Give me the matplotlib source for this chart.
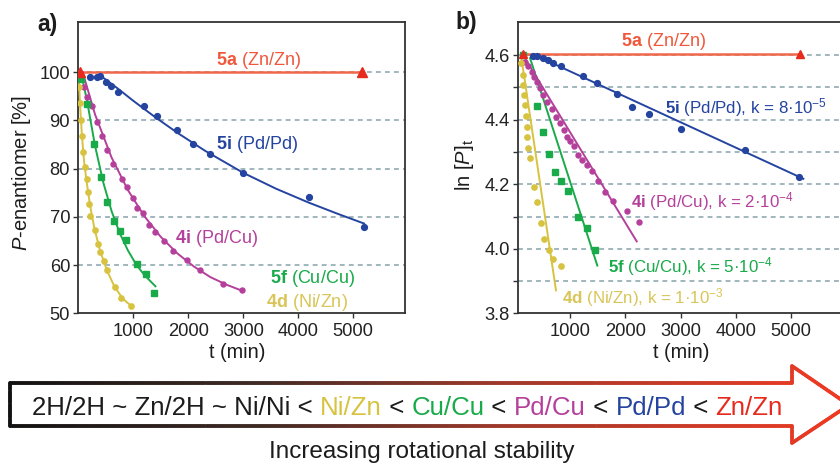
import numpy as np
import matplotlib
matplotlib.use('Agg')
import matplotlib.pyplot as plt
from matplotlib.collections import LineCollection
from matplotlib.colors import LinearSegmentedColormap

# ---------------- data ----------------
# panel a : P-enantiomer [%] vs t (min)
red_a_t = [25, 5160]
red_a_v = [100, 100]

blue_a_t = [211, 327, 394, 492, 596, 719, 1189, 1435, 1789, 2088, 2394, 3000, 4198, 5190]
blue_a_v = [98.9, 98.9, 99.2, 98.0, 97.0, 95.9, 92.9, 90.9, 88.0, 85.1, 83.0, 79.0, 74.1, 67.9]
blue_a_fit_t = [380, 700, 1000, 1400, 1800, 2300, 3000, 3600, 4200, 4700, 5200]
blue_a_fit_v = [99.4, 96.7, 94.0, 90.6, 87.4, 83.7, 79.1, 75.8, 72.9, 70.7, 68.6]

mag_a_t = [101, 161, 242, 334, 431, 517, 628, 798, 884, 994, 1073, 1178, 1288, 1391, 1556, 1721, 1967, 2206, 2628, 2976]
mag_a_v = [96.8, 94.9, 92.9, 89.7, 86.7, 83.8, 80.9, 77.8, 76.1, 73.9, 71.9, 70.8, 68.3, 66.9, 65.0, 62.9, 61.0, 58.9, 56.0, 54.9]
mag_a_fit_t = [73, 300, 600, 900, 1200, 1500, 1800, 2100, 2400, 2700, 2950]
mag_a_fit_v = [100, 91.2, 82.3, 75.5, 70.1, 65.8, 62.4, 59.7, 57.5, 55.9, 54.8]

green_a_t = [46, 161, 284, 413, 517, 639, 761, 872, 1068, 1226, 1376]
green_a_v = [98.5, 93.3, 85.1, 78.2, 73.1, 69.1, 67.0, 65.1, 60.2, 58.2, 54.2]
green_a_fit_t = [40, 150, 300, 450, 600, 750, 900, 1050, 1200, 1400]
green_a_fit_v = [100, 94.3, 84.7, 77.1, 71.2, 66.6, 63.0, 60.1, 57.9, 55.6]

yel_a_t = [9, 18, 37, 59, 88, 119, 150, 165, 189, 211, 290, 349, 394, 455, 523, 655, 776, 958]
yel_a_v = [96.8, 93.5, 90.0, 86.7, 83.5, 80.4, 77.8, 75.2, 72.6, 70.2, 67.2, 64.4, 62.6, 60.8, 58.9, 55.4, 53.2, 51.5]
yel_a_fit_t = [0, 30, 60, 100, 150, 210, 290, 390, 520, 650, 800, 958]
yel_a_fit_v = [100, 92.5, 87.0, 81.5, 77.0, 72.3, 67.5, 63.0, 58.8, 55.6, 53.1, 51.5]

# panel b : ln[P]t vs t (min)
red_b_t = [140, 5165]
red_b_L = [4.605, 4.605]

blue_b_t = [328, 401, 499, 601, 691, 826, 1236, 1490, 1842, 2125, 2434, 3004, 4171, 5156]
blue_b_L = [4.598, 4.596, 4.591, 4.585, 4.575, 4.567, 4.534, 4.513, 4.479, 4.441, 4.418, 4.371, 4.305, 4.222]
blue_b_fit_t = [360, 5230]
blue_b_fit_L = [4.600, 4.217]

mag_b_t = [178, 238, 299, 347, 390, 450, 510, 583, 662, 740, 813, 886, 946, 995, 1067, 1145, 1207, 1298,
           1388, 1508, 1630, 1780, 2024, 2252]
mag_b_L = [4.580, 4.565, 4.549, 4.532, 4.518, 4.498, 4.477, 4.456, 4.433, 4.408, 4.391, 4.369, 4.348, 4.333,
           4.318, 4.291, 4.276, 4.260, 4.240, 4.209, 4.175, 4.147, 4.116, 4.082]
mag_b_fit_t = [196, 2205]
mag_b_fit_L = [4.585, 4.023]

green_b_t = [150, 390, 505, 613, 726, 837, 967, 1140, 1303, 1443]
green_b_L = [4.600, 4.442, 4.361, 4.294, 4.239, 4.209, 4.178, 4.100, 4.064, 3.995]
green_b_fit_t = [269, 1490]
green_b_fit_L = [4.591, 3.948]

yel_b_t = [105, 136, 147, 160, 178, 191, 209, 220, 238, 269, 341, 390, 474, 528, 619, 691, 822]
yel_b_L = [4.575, 4.539, 4.508, 4.477, 4.446, 4.412, 4.377, 4.348, 4.312, 4.281, 4.193, 4.146, 4.081,
           4.030, 3.995, 3.969, 3.948]
yel_b_fit_t = [118, 740]
yel_b_fit_L = [4.585, 3.871]

a_yticks = [50, 60, 70, 80, 90, 100]
a_grid = [60, 70, 80, 90, 100]
b_yticks = [3.8, 4.0, 4.2, 4.4, 4.6]
b_minor = [3.9, 4.1, 4.3, 4.5]
b_grid = [3.9, 4.0, 4.1, 4.2, 4.3, 4.4, 4.5, 4.6]
xticks = [1000, 2000, 3000, 4000, 5000]

scale_segments = ['2H/2H ~ Zn/2H ~ Ni/Ni < ', 'Ni/Zn', ' < ', 'Cu/Cu', ' < ', 'Pd/Cu', ' < ',
                  'Pd/Pd', ' < ', 'Zn/Zn']

# ---------------- style ----------------
plt.rcParams['font.family'] = ['Liberation Sans', 'DejaVu Sans']
plt.rcParams['mathtext.fontset'] = 'custom'
plt.rcParams['mathtext.rm'] = 'Liberation Sans'
plt.rcParams['mathtext.it'] = 'Liberation Sans:italic'
plt.rcParams['mathtext.bf'] = 'Liberation Sans:bold'
plt.rcParams['lines.scale_dashes'] = False

RED_L = '#f1674a'
RED_M = '#e62a1e'
RED_T = '#f0573b'
BLUE = '#2444a0'
MAG = '#b5409c'
GREEN = '#19aa4a'
YEL = '#d7c340'
YEL_T = '#d9c558'
BLK = '#1c1c1c'
GRID = '#86a2ab'
SPINE = '#333333'

W, H = 840, 466
fig = plt.figure(figsize=(8.4, 4.66), dpi=100)


def frac(x0, x1, ytop, ybot):
    return [x0 / W, 1 - ybot / H, (x1 - x0) / W, (ybot - ytop) / H]


axA = fig.add_axes(frac(77.7, 405, 22.3, 313.3))
axB = fig.add_axes(frac(517.7, 846, 22.3, 313.3))

for ax in (axA, axB):
    for s in ax.spines.values():
        s.set_color(SPINE)
        s.set_linewidth(1.3)
    ax.tick_params(axis='both', which='major', direction='out', length=3.5, width=1.0,
                   color=SPINE, labelsize=13.2, labelcolor='#222222', pad=2.0)
    ax.tick_params(axis='x', pad=3.5)
    ax.set_xticks(xticks)

axA.set_xlim(-16, 5945)
axA.set_ylim(50, 110.3)
axA.set_yticks(a_yticks)
for g in a_grid:
    axA.axhline(g, color=GRID, lw=1.1, dashes=(3.5, 3.0), zorder=1)

axB.set_xlim(45, 6004)
axB.set_ylim(3.8, 4.702)
axB.set_yticks(b_yticks)
axB.set_yticklabels(['3.8', '4.0', '4.2', '4.4', '4.6'])
axB.set_yticks(b_minor, minor=True)
axB.tick_params(axis='y', which='minor', direction='out', length=3.5, width=1.0, color=SPINE)
for g in b_grid:
    axB.axhline(g, color=GRID, lw=1.1, dashes=(3.5, 3.0), zorder=1)

lw = 1.4
# panel a
axA.plot(red_a_t, red_a_v, '-', color=RED_L, lw=1.8, zorder=3)
axA.plot(red_a_t, red_a_v, '^', color=RED_M, ms=6.5, zorder=6, ls='none')
axA.plot(blue_a_fit_t, blue_a_fit_v, '-', color=BLUE, lw=lw, zorder=3)
axA.plot(blue_a_t, blue_a_v, 'o', color=BLUE, ms=4.2, ls='none', zorder=5)
axA.plot(mag_a_fit_t, mag_a_fit_v, '-', color=MAG, lw=lw, zorder=3)
axA.plot(mag_a_t, mag_a_v, 'o', color=MAG, ms=3.6, ls='none', zorder=5)
axA.plot(green_a_fit_t, green_a_fit_v, '-', color=GREEN, lw=lw, zorder=3)
axA.plot(green_a_t, green_a_v, 's', color=GREEN, ms=4.2, ls='none', zorder=5)
axA.plot(yel_a_fit_t, yel_a_fit_v, '-', color=YEL, lw=lw, zorder=3)
axA.plot(yel_a_t, yel_a_v, 'o', color=YEL, ms=3.8, ls='none', zorder=5)

# panel b
axB.plot(red_b_t, red_b_L, '-', color=RED_L, lw=1.8, zorder=3)
axB.plot(red_b_t, red_b_L, '^', color=RED_M, ms=5.5, zorder=6, ls='none')
axB.plot(blue_b_fit_t, blue_b_fit_L, '-', color=BLUE, lw=lw, zorder=3)
axB.plot(blue_b_t, blue_b_L, 'o', color=BLUE, ms=4.2, ls='none', zorder=5)
axB.plot(mag_b_fit_t, mag_b_fit_L, '-', color=MAG, lw=lw, zorder=3)
axB.plot(mag_b_t, mag_b_L, 'o', color=MAG, ms=3.6, ls='none', zorder=5)
axB.plot(green_b_fit_t, green_b_fit_L, '-', color=GREEN, lw=lw, zorder=3)
axB.plot(green_b_t, green_b_L, 's', color=GREEN, ms=4.2, ls='none', zorder=5)
axB.plot(yel_b_fit_t, yel_b_fit_L, '-', color=YEL, lw=lw, zorder=3)
axB.plot(yel_b_t, yel_b_L, 'o', color=YEL, ms=3.8, ls='none', zorder=5)

fs_lab = 13
axA.text(3270, 102.3, r'$\mathbf{5a}$ (Zn/Zn)', color=RED_T, fontsize=fs_lab, ha='center', va='center')
axA.text(3250, 84.9, r'$\mathbf{5i}$ (Pd/Pd)', color=BLUE, fontsize=fs_lab, ha='center', va='center')
axA.text(2503, 65.6, r'$\mathbf{4i}$ (Pd/Cu)', color=MAG, fontsize=fs_lab, ha='center', va='center')
axA.text(4251, 57.3, r'$\mathbf{5f}$ (Cu/Cu)', color=GREEN, fontsize=fs_lab, ha='center', va='center')
axA.text(4160, 52.3, r'$\mathbf{4d}$ (Ni/Zn)', color=YEL_T, fontsize=fs_lab, ha='center', va='center')

fs_k = 12.2
axB.text(2682, 4.641, r'$\mathbf{5a}$ (Zn/Zn)', color=RED_T, fontsize=fs_lab, ha='center', va='center')
axB.text(2719, 4.437, r'$\mathbf{5i}$ (Pd/Pd), k = 8·10$^{-5}$', color=BLUE, fontsize=fs_k,
         ha='left', va='center')
axB.text(2096, 4.147, r'$\mathbf{4i}$ (Pd/Cu), k = 2·10$^{-4}$', color=MAG, fontsize=fs_k,
         ha='left', va='center')
axB.text(1679, 3.946, r'$\mathbf{5f}$ (Cu/Cu), k = 5·10$^{-4}$', color=GREEN, fontsize=fs_k,
         ha='left', va='center')
axB.text(844, 3.850, r'$\mathbf{4d}$ (Ni/Zn), k = 1·10$^{-3}$', color=YEL_T, fontsize=fs_k,
         ha='left', va='center')

# ---------------- overlay (labels, arrow) in pixel coords ----------------
ax0 = fig.add_axes([0, 0, 1, 1])
ax0.set_xlim(0, W)
ax0.set_ylim(H, 0)
ax0.axis('off')
ax0.patch.set_alpha(0)

ax0.text(37, 24, 'a)', fontsize=16.5, fontweight='bold', ha='left', va='center', color=BLK)
ax0.text(455, 23, 'b)', fontsize=16.5, fontweight='bold', ha='left', va='center', color=BLK)
ax0.text(237, 353, 't (min)', fontsize=14.3, ha='center', va='center', color=BLK)
ax0.text(681, 353, 't (min)', fontsize=14.3, ha='center', va='center', color=BLK)
ax0.text(22, 173, r'$\mathit{P}$-enantiomer [%]', fontsize=14.5, ha='center', va='center',
         rotation=90, color=BLK)
ax0.text(465, 165, r'ln [$\mathit{P}$]$_\mathrm{t}$', fontsize=14.5, ha='center', va='center',
         rotation=90, color=BLK)

# gradient arrow outline
verts = [(10, 383), (792, 383), (792, 366), (849, 405), (792, 443), (792, 426), (10, 426), (10, 383)]
pts = []
for (xa, ya), (xb, yb) in zip(verts[:-1], verts[1:]):
    n = max(2, int(np.hypot(xb - xa, yb - ya) / 2))
    xs = np.linspace(xa, xb, n)
    ys = np.linspace(ya, yb, n)
    pts.extend(zip(xs, ys))
pts = np.array(pts)
segs = np.stack([pts[:-1], pts[1:]], axis=1)
cmap = LinearSegmentedColormap.from_list('arr', [(0, '#111111'), (0.3, '#3e2a24'),
                                                 (0.6, '#a0392b'), (1, '#ee3a24')])
cols = cmap(np.clip(segs[:, :, 0].mean(axis=1) / 840, 0, 1))
lc = LineCollection(segs, colors=cols, linewidths=2.6, capstyle='round', joinstyle='round')
ax0.add_collection(lc)

# coloured ranking text
seg_colors = [BLK, YEL, BLK, GREEN, BLK, MAG, BLK, BLUE, BLK, RED_M]
fs_bar = 18.6
renderer = fig.canvas.get_renderer()


def tw(s):
    t = ax0.text(0, 0, s, fontsize=fs_bar)
    w = t.get_window_extent(renderer).width
    t.remove()
    return w


wref = tw('H')
x0 = 32
for i, (s, c) in enumerate(zip(scale_segments, seg_colors)):
    prefix = ''.join(scale_segments[:i])
    xoff = 0 if i == 0 else tw(prefix + 'H') - wref
    ax0.text(x0 + xoff, 415, s, fontsize=fs_bar, color=c, ha='left', va='baseline')

ax0.text(422, 452, 'Increasing rotational stability', fontsize=17.5, ha='center', va='center',
         color=BLK)

fig.savefig('out.png', dpi=100)
